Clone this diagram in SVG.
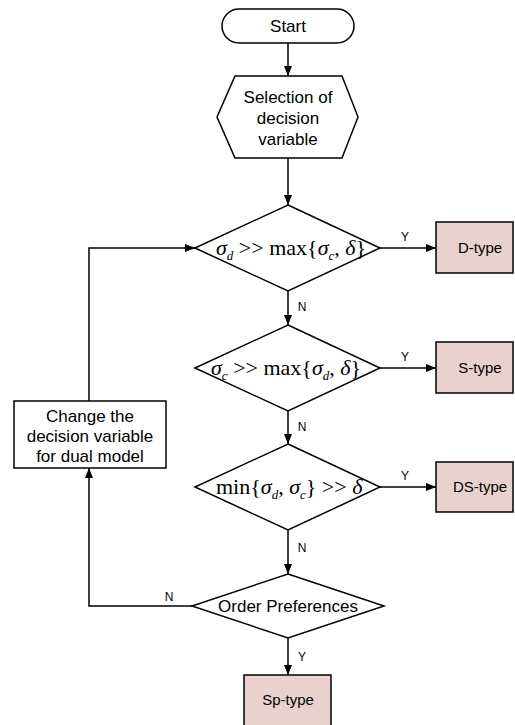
<svg xmlns="http://www.w3.org/2000/svg" width="515" height="725" viewBox="0 0 515 725">
<defs>
<marker id="arr" viewBox="0 0 10 10" refX="10" refY="5" markerWidth="10" markerHeight="10" markerUnits="userSpaceOnUse" orient="auto">
<path d="M0,1 L10,5 L0,9 z" fill="#000"/>
</marker>
<style>
.shape{fill:#fff;stroke:#000;stroke-width:1.5}
.res{fill:#E8D1CE;stroke:#000;stroke-width:1.5}
.t{font-family:"Liberation Sans",Arial,sans-serif;font-size:17px;fill:#000;text-anchor:middle}
.b{font-family:"Liberation Sans",Arial,sans-serif;font-size:15px;fill:#000;text-anchor:middle}
.lbl{font-family:"Liberation Sans",Arial,sans-serif;font-size:12px;fill:#000;text-anchor:middle}
.m{font-family:"Liberation Serif","Times New Roman",serif;font-size:22px;fill:#000}
.i{font-style:italic}
.s{font-size:13px;font-style:italic}
.c{fill:none;stroke:#000;stroke-width:1.5}
</style>
</defs>
<rect width="515" height="725" fill="#fff"/>
<g id="connectors">
<line class="c" x1="288" y1="43" x2="288" y2="76" marker-end="url(#arr)"/>
<line class="c" x1="288" y1="158" x2="288" y2="205" marker-end="url(#arr)"/>
<line class="c" x1="380" y1="248" x2="436" y2="248" marker-end="url(#arr)"/>
<line class="c" x1="288" y1="291" x2="288" y2="325" marker-end="url(#arr)"/>
<line class="c" x1="380" y1="368" x2="436" y2="368" marker-end="url(#arr)"/>
<line class="c" x1="288" y1="411" x2="288" y2="444" marker-end="url(#arr)"/>
<line class="c" x1="380" y1="487" x2="436" y2="487" marker-end="url(#arr)"/>
<line class="c" x1="288" y1="530" x2="288" y2="574" marker-end="url(#arr)"/>
<line class="c" x1="288" y1="638" x2="288" y2="675" marker-end="url(#arr)"/>
<polyline class="c" points="192,606 89,606 89,468" marker-end="url(#arr)"/>
<polyline class="c" points="89,401 89,248 195,248" marker-end="url(#arr)"/>
<text class="lbl" x="405" y="241">Y</text>
<text class="lbl" x="405" y="361">Y</text>
<text class="lbl" x="405" y="480">Y</text>
<text class="lbl" x="302" y="311">N</text>
<text class="lbl" x="302" y="431">N</text>
<text class="lbl" x="302" y="552">N</text>
<text class="lbl" x="169" y="601">N</text>
<text class="lbl" x="302" y="661">Y</text>
</g>
<g id="start">
<rect class="shape" x="222" y="9" width="132" height="34" rx="17" ry="17"/>
<text class="t" x="288" y="32">Start</text>
</g>
<g id="selection">
<polygon class="shape" points="235,76 342,76 358,117 342,158 235,158 217,117"/>
<text class="t" x="288" y="103">Selection of</text>
<text class="t" x="288" y="124">decision</text>
<text class="t" x="288" y="145">variable</text>
</g>
<g id="cond1">
<polygon class="shape" points="288,205 380,248 288,291 195,248"/>
<text class="m" x="216" y="255"><tspan class="i">σ</tspan><tspan class="s" dy="5">d</tspan><tspan dy="-5"> &gt;&gt; max{</tspan><tspan class="i">σ</tspan><tspan class="s" dy="5">c</tspan><tspan dy="-5">, </tspan><tspan class="i">δ</tspan><tspan>}</tspan></text>
</g>
<g id="dtype">
<rect class="res" x="436" y="222" width="77" height="51"/>
<text class="b" x="480" y="253">D-type</text>
</g>
<g id="cond2">
<polygon class="shape" points="288,325 380,368 288,411 195,368"/>
<text class="m" x="211" y="375"><tspan class="i">σ</tspan><tspan class="s" dy="5">c</tspan><tspan dy="-5"> &gt;&gt; max{</tspan><tspan class="i">σ</tspan><tspan class="s" dy="5">d</tspan><tspan dy="-5">, </tspan><tspan class="i">δ</tspan><tspan>}</tspan></text>
</g>
<g id="stype">
<rect class="res" x="436" y="342" width="77" height="51"/>
<text class="b" x="480" y="373">S-type</text>
</g>
<g id="cond3">
<polygon class="shape" points="288,444 380,487 288,530 195,487"/>
<text class="m" x="216" y="494"><tspan>min{</tspan><tspan class="i">σ</tspan><tspan class="s" dy="5">d</tspan><tspan dy="-5">, </tspan><tspan class="i">σ</tspan><tspan class="s" dy="5">c</tspan><tspan dy="-5">} &gt;&gt; </tspan><tspan class="i">δ</tspan></text>
</g>
<g id="dstype">
<rect class="res" x="436" y="462" width="77" height="50"/>
<text class="b" x="480" y="492">DS-type</text>
</g>
<g id="order">
<polygon class="shape" points="288,574 384,606 288,638 192,606"/>
<text class="t" x="288" y="612">Order Preferences</text>
</g>
<g id="sptype">
<rect class="res" x="244" y="675" width="87" height="55"/>
<text class="b" x="288" y="705">Sp-type</text>
</g>
<g id="change">
<rect class="shape" x="14" y="401" width="152" height="67"/>
<text class="t" x="90" y="422">Change the</text>
<text class="t" x="90" y="442">decision variable</text>
<text class="t" x="90" y="462">for dual model</text>
</g>
</svg>
